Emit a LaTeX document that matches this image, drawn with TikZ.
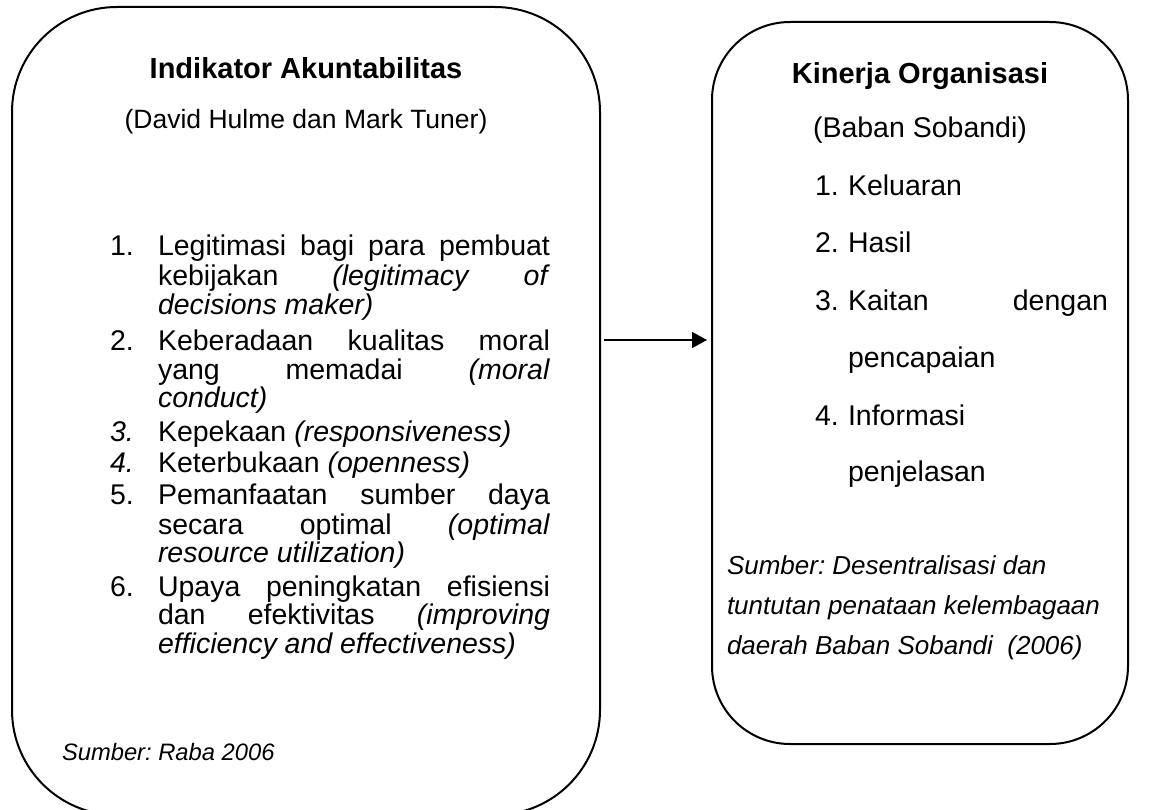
\documentclass[tikz,border=0pt]{standalone}
\usepackage{fontspec}
\setmainfont{Liberation Sans}
\usetikzlibrary{arrows.meta,calc}
\frenchspacing
\newcommand\fHead{\fontsize{29pt}{33pt}\selectfont\bfseries}
\newcommand\fSub{\fontsize{26.5pt}{31pt}\selectfont}
\newcommand\fList{\fontsize{28.5pt}{33pt}\selectfont}
\newcommand\fSrc{\fontsize{23.75pt}{28pt}\selectfont\itshape}
\newcommand\fSrcR{\fontsize{26pt}{30pt}\selectfont\itshape}
\newcommand\jl[2]{\makebox[#1][s]{#2}}
\begin{document}
\begin{tikzpicture}[x=1pt,y=-1pt,
  box/.style={draw, line width=2pt, rounded corners=#1, inner sep=0pt, outer sep=0pt, anchor=north west},
  txt/.style={inner sep=0pt, outer sep=0pt, anchor=base west},
  ctxt/.style={inner sep=0pt, outer sep=0pt, anchor=base},
  arr/.style={line width=1.2pt, -{Triangle[length=15pt,width=16pt]}, shorten <=4pt, shorten >=5pt}]
\useasboundingbox (0,0) rectangle (1152,810);
% boxes
\node[box=105pt, minimum width=588pt, minimum height=808pt] (L) at (12,7) {};
\node[box=78pt, minimum width=416pt, minimum height=722pt] (R) at (712,22) {};
% left box texts
\node[ctxt] (Lh) at (306,79) {\fHead Indikator Akuntabilitas};
\node[ctxt] (Ls) at (306,129) {\fSub (David Hulme dan Mark Tuner)};
\node[txt] (n1) at (110,256) {\fList 1.};
\node[txt] (l1a) at (158,256) {\fList\jl{392pt}{Legitimasi bagi para pembuat}};
\node[txt] (l1b) at (158,286) {\fList\jl{392pt}{kebijakan \textit{(legitimacy} \textit{of}}};
\node[txt] (l1c) at (158,315) {\fList\textit{decisions maker)}};
\node[txt] (n2) at (110,351) {\fList 2.};
\node[txt] (l2a) at (158,351) {\fList\jl{392pt}{Keberadaan kualitas moral}};
\node[txt] (l2b) at (158,380) {\fList\jl{392pt}{yang memadai \textit{(moral}}};
\node[txt] (l2c) at (158,408) {\fList\textit{conduct)}};
\node[txt] (n3) at (110,442) {\fList\textit{3.}};
\node[txt] (l3a) at (158,442) {\fList Kepekaan \textit{(responsiveness)}};
\node[txt] (n4) at (110,472) {\fList\textit{4.}};
\node[txt] (l4a) at (158,472) {\fList Keterbukaan \textit{(openness)}};
\node[txt] (n5) at (110,504) {\fList 5.};
\node[txt] (l5a) at (158,504) {\fList\jl{392pt}{Pemanfaatan sumber daya}};
\node[txt] (l5b) at (158,534) {\fList\jl{392pt}{secara optimal \textit{(optimal}}};
\node[txt] (l5c) at (158,562) {\fList\textit{resource utilization)}};
\node[txt] (n6) at (110,596) {\fList 6.};
\node[txt] (l6a) at (158,596) {\fList\jl{392pt}{Upaya peningkatan efisiensi}};
\node[txt] (l6b) at (158,624) {\fList\jl{392pt}{dan efektivitas \textit{(improving}}};
\node[txt] (l6c) at (158,653) {\fList\textit{efficiency and effectiveness)}};
\node[txt] (Lsrc) at (62,760) {\fSrc Sumber: Raba 2006};
% right box texts
\node[ctxt] (Rh) at (920,84) {\fHead Kinerja Organisasi};
\node[ctxt] (Rs) at (920,138) {\fList (Baban Sobandi)};
\node[txt] (m1) at (815,196) {\fList 1.};
\node[txt] (r1) at (848,196) {\fList Keluaran};
\node[txt] (m2) at (815,253) {\fList 2.};
\node[txt] (r2) at (848,253) {\fList Hasil};
\node[txt] (m3) at (815,311) {\fList 3.};
\node[txt] (r3a) at (848,311) {\fList\jl{260pt}{Kaitan dengan}};
\node[txt] (r3b) at (848,368) {\fList pencapaian};
\node[txt] (m4) at (815,425) {\fList 4.};
\node[txt] (r4a) at (848,425) {\fList Informasi};
\node[txt] (r4b) at (848,481) {\fList penjelasan};
\node[txt] (Rsrc1) at (727,574) {\fSrcR Sumber: Desentralisasi dan};
\node[txt] (Rsrc2) at (727,614) {\fSrcR tuntutan penataan kelembagaan};
\node[txt] (Rsrc3) at (727,654) {\fSrcR daerah Baban Sobandi\ \ (2006)};
% arrow
\coordinate (ay) at (0,340);
\draw[arr] (L.east |- ay) -- (R.west |- ay);
\end{tikzpicture}
\end{document}
